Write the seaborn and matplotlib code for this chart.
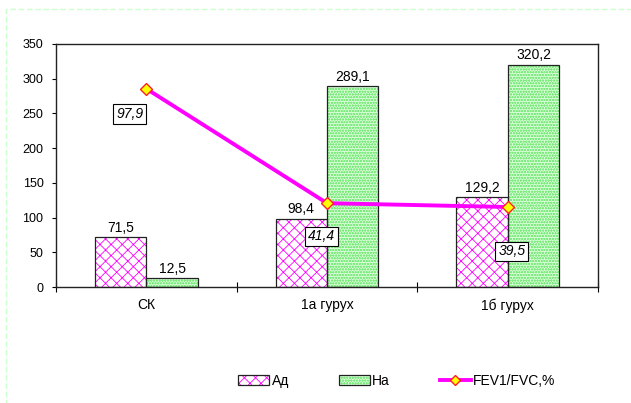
import pandas as pd
import seaborn as sns
import matplotlib
matplotlib.use("Agg")
import matplotlib.pyplot as plt
from matplotlib.patches import Patch, Rectangle
from matplotlib.lines import Line2D
from matplotlib.legend_handler import HandlerTuple

# --------------------------------------------------------------------------
# Data
# --------------------------------------------------------------------------
CATEGORIES = ["СК", "1а гурух", "1б гурух"]
AD = [71.5, 98.4, 129.2]
NA = [12.5, 289.1, 320.2]
FEV = [97.9, 41.4, 39.5]
SERIES = ["Ад", "На"]
LINE_LABEL = "FEV1/FVC,%"

# label offsets (points) for the boxed line values
FEV_OFFSETS = [(-12, -18), (-4, -24), (3, -32)]

STYLE = {
    "Ад": dict(face="white", hatch="xxx", hcolor="#FF00FF"),
    "На": dict(face="#D8FFD8", hatch="oooooo", hcolor="#7FEA7F"),
}

plt.rcParams["font.family"] = ["Liberation Sans", "DejaVu Sans"]
plt.rcParams["hatch.linewidth"] = 0.6
FS = 10


def comma(v):
    return f"{v:.1f}".replace(".", ",")


df = pd.DataFrame({
    "group": CATEGORIES * 2,
    "series": [SERIES[0]] * 3 + [SERIES[1]] * 3,
    "value": AD + NA,
})

fig = plt.figure(figsize=(6.31, 4.03), dpi=100)
ax = fig.add_axes([56 / 631, 1 - 287 / 403, 542 / 631, 243 / 403])

sns.barplot(df, x="group", y="value", hue="series", hue_order=SERIES,
            order=CATEGORIES, width=0.57, ax=ax, legend=False)

# hatch colour follows edge colour, so draw hatched bars without edge
# and put a dark outline on top
for container, name in zip(ax.containers, SERIES):
    st = STYLE[name]
    for bar in container:
        bar.set_facecolor(st["face"])
        bar.set_hatch(st["hatch"])
        bar.set_edgecolor(st["hcolor"])
        bar.set_linewidth(0)
        ax.add_patch(Rectangle(bar.get_xy(), bar.get_width(), bar.get_height(),
                               fill=False, edgecolor="#222222", lw=0.9, zorder=3))
    ax.bar_label(container, labels=[comma(b.get_height()) for b in container],
                 padding=2, fontsize=FS)

ax.set_ylim(0, 350)
ax.set_yticks(range(0, 351, 50))
ax.set_xlim(-0.5, len(CATEGORIES) - 0.5)
ax.set_xlabel("")
ax.set_ylabel("")
ax.set_xticks(range(len(CATEGORIES)), CATEGORIES)
ax.tick_params(axis="x", length=0, pad=8, labelsize=FS)
ax.set_xticks([i + 0.5 for i in range(-1, len(CATEGORIES))], minor=True)
ax.tick_params(axis="x", which="minor", direction="inout", length=7, width=0.8)
ax.tick_params(axis="y", length=3, width=0.8, labelsize=9, pad=6)
for s in ax.spines.values():
    s.set_linewidth(1.0)
    s.set_color("#222222")

# line on a hidden secondary axis
ax2 = ax.twinx()
ax2.set_ylim(0, 120)
ax2.plot(range(len(CATEGORIES)), FEV, color="#FF00FF", lw=2.8,
         marker="D", ms=6, mfc="#FFFF00", mec="#FF2020", mew=1, zorder=5)
for i, (v, off) in enumerate(zip(FEV, FEV_OFFSETS)):
    ax2.annotate(comma(v), (i, v), xytext=off, textcoords="offset points",
                 ha="center", va="center", fontsize=FS, style="italic",
                 bbox=dict(boxstyle="square,pad=0.2", fc="white", ec="black", lw=0.8))
ax2.set_yticks([])
for s in ax2.spines.values():
    s.set_visible(False)
ax2.set_xlim(-0.5, len(CATEGORIES) - 0.5)

# legend
handles = []
for name in SERIES:
    st = STYLE[name]
    handles.append((Patch(facecolor=st["face"], hatch=st["hatch"], edgecolor=st["hcolor"], lw=0),
                    Patch(fill=False, edgecolor="#222222", lw=0.9)))
handles.append(Line2D([], [], color="#FF00FF", lw=2.8, marker="D", ms=5,
                      mfc="#FFFF00", mec="#FF2020", mew=1))
fig.legend(handles, SERIES + [LINE_LABEL], loc="center",
           bbox_to_anchor=(397 / 631, 1 - 381 / 403), ncol=3, frameon=False,
           fontsize=FS, handlelength=2.2, handleheight=0.7, handletextpad=0.2,
           columnspacing=3.6, handler_map={tuple: HandlerTuple(ndivide=1)})

# dashed chart-area border
fig.patches.append(Rectangle((6 / 631, -0.5), 2, 1.5 - 9 / 403,
                             transform=fig.transFigure, fill=False,
                             edgecolor="#CCFFCC", lw=1, ls=(0, (4, 2))))

fig.savefig("out.png", dpi=100)
